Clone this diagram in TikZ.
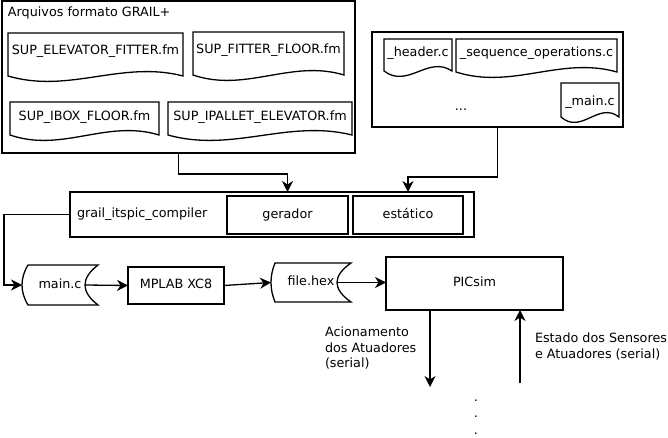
\documentclass[tikz,border=0pt]{standalone}
\usepackage{fontspec}
\setmainfont{DejaVu Sans}
\usetikzlibrary{calc,arrows.meta}
\tikzset{
  shapeline/.style={draw=black, line width=1.3pt, line join=miter},
  box/.style={shapeline, rectangle, inner sep=0pt, outer sep=0pt},
  txt/.style={inner sep=0pt, outer sep=0pt, text height=9.6pt, text depth=2.8pt},
  plain/.style={inner sep=0pt, outer sep=0pt},
  conn/.style={line width=1.3pt},
  arr/.style={line width=1.3pt, -{Stealth[length=11pt,width=11pt,inset=3.5pt]}},
}
\newcommand\docout[2]{%
  \draw[shapeline] (#1.north west) -- (#1.north east) -- ($(#1.north east)+(0,#2)$)
    .. controls ($(#1.north east)!0.35!(#1.north west)+(0,#2-16)$) and ($(#1.north east)!0.65!(#1.north west)+(0,#2+18)$) .. ($(#1.north west)+(0,#2)$) -- cycle;}
\newcommand\storeout[3]{%
  \draw[shapeline] ($(#1.north west)+(#2,0)$) -- (#1.north east)
    .. controls ($(#1.north east)!0.333!(#1.south east)+(-1.333*#3,0)$) and ($(#1.north east)!0.667!(#1.south east)+(-1.333*#3,0)$) .. (#1.south east)
    -- ($(#1.south west)+(#2,0)$)
    .. controls ($(#1.south west)!0.333!(#1.north west)+(-0.333*#2,0)$) and ($(#1.south west)!0.667!(#1.north west)+(-0.333*#2,0)$) .. ($(#1.north west)+(#2,0)$) -- cycle;}
\begin{document}
\begin{tikzpicture}[x=1pt,y=-1pt,font=\fontsize{12.75}{15.5}\selectfont]
\useasboundingbox (0,0) rectangle (668,438);

% group 1
\node[box, minimum width=353pt, minimum height=152pt] (grp1) at (178.5,77) {};
\node[txt, anchor=west] (title1) at (8,13.3) {Arquivos formato GRAIL+};
\node[txt, minimum width=175pt, minimum height=36pt] (d1) at (95.5,51) {SUP\_ELEVATOR\_FITTER.fm};
\docout{d1}{43}
\node[txt, minimum width=151pt, minimum height=36pt] (d2) at (268.5,50) {SUP\_FITTER\_FLOOR.fm};
\docout{d2}{43}
\node[txt, minimum width=149pt, minimum height=30pt] (d3) at (84.5,117) {SUP\_IBOX\_FLOOR.fm};
\docout{d3}{33}
\node[txt, minimum width=184pt, minimum height=30pt] (d4) at (260,117) {SUP\_IPALLET\_ELEVATOR.fm};
\docout{d4}{33}

% group 2
\node[box, minimum width=251pt, minimum height=95pt] (grp2) at (497.5,79.5) {};
\node[txt, minimum width=68pt, minimum height=28pt] (h1) at (418,53) {\_header.c};
\docout{h1}{32}
\node[txt, minimum width=161pt, minimum height=28pt] (h2) at (536.5,53) {\_sequence\_operations.c};
\docout{h2}{33}
\node[txt, minimum width=58pt, minimum height=38pt] (h3) at (590,102) {\_main.c};
\docout{h3}{34}
\node[txt] (dots1) at (461,107.6) {...};

% compiler
\node[box, minimum width=404pt, minimum height=45pt] (compiler) at (272,214.5) {};
\node[txt, anchor=west] (complabel) at (77,214) {grail\_itspic\_compiler};
\node[box, txt, minimum width=121pt, minimum height=38pt] (gerador) at (287.5,215) {gerador};
\node[box, txt, minimum width=110pt, minimum height=38pt] (estatico) at (408,215) {estático};

% bottom row
\node[txt, minimum width=76pt, minimum height=40pt] (mainc) at (60,285) {main.c};
\storeout{mainc}{6}{13}
\node[box, txt, minimum width=96pt, minimum height=37pt] (mplab) at (176,285.5) {MPLAB XC8};
\node[txt, minimum width=80pt, minimum height=39pt] (filehex) at (311,282.5) {file.hex};
\storeout{filehex}{4}{14}
\node[box, txt, minimum width=177pt, minimum height=53pt] (picsim) at (474.5,283.5) {PICsim};

\coordinate (mainc-out) at ($(mainc.east)+(-13,0)$);
\coordinate (filehex-out) at ($(filehex.east)+(-14,0)$);
\coordinate (act-end) at (430,387);
\coordinate (sens-start) at (520,383);

% connectors
\draw[arr] (grp1.south) -- ++(0,21) -| (gerador.north |- compiler.north);
\draw[arr] (grp2.south) -- ++(0,50) -| (estatico.north |- compiler.north);
\draw[arr] (compiler.west) -- ++(-66,0) |- (mainc.west);
\draw[arr] (mainc-out) -- (mplab.west);
\draw[arr] (mplab.east) -- (filehex.west);
\draw[arr] (filehex-out) -- (picsim.west |- filehex-out);
\draw[arr] (picsim.south -| act-end) -- (act-end);
\draw[arr] (sens-start) -- (picsim.south -| sens-start);

% labels
\node[plain, anchor=north west, align=left, font=\fontsize{12.75}{15.5}\selectfont] (actlabel) at (325,327) {Acionamento\\dos Atuadores\\(serial)};
\node[plain, anchor=north west, align=left, font=\fontsize{12.75}{15.5}\selectfont] (senslabel) at (535,333) {Estado dos Sensores\\e Atuadores (serial)};
\node[plain, anchor=south, align=center, font=\fontsize{12.75}{16.5}\selectfont] (vdots) at (476,434.2) {.\\.\\.};
\end{tikzpicture}
\end{document}
